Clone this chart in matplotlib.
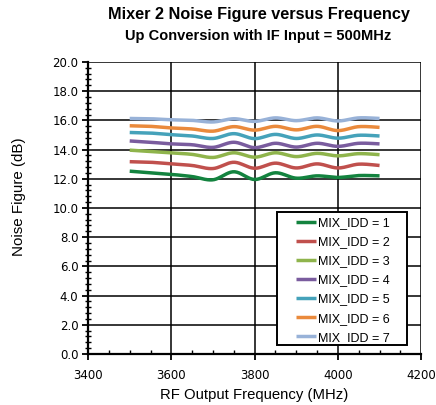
import numpy as np
import matplotlib
matplotlib.use("Agg")
import matplotlib.pyplot as plt
from matplotlib.ticker import MultipleLocator, FormatStrFormatter
from matplotlib.patches import Rectangle

freq = [3500, 3550, 3600, 3650, 3700, 3750, 3800, 3850, 3900, 3950, 4000, 4050, 4100]

nf_idd1 = [12.52, 12.41, 12.30, 12.15, 11.93, 12.48, 11.95, 12.41, 12.04, 12.20, 12.09, 12.22, 12.20]
nf_idd2 = [13.17, 13.13, 13.02, 12.91, 12.70, 13.13, 12.72, 13.07, 12.74, 13.02, 12.74, 13.00, 12.91]
nf_idd3 = [13.96, 13.87, 13.78, 13.67, 13.46, 13.78, 13.48, 13.78, 13.52, 13.74, 13.57, 13.72, 13.65]
nf_idd4 = [14.59, 14.50, 14.39, 14.33, 14.15, 14.50, 14.13, 14.43, 14.17, 14.43, 14.22, 14.43, 14.39]
nf_idd5 = [15.17, 15.13, 15.02, 14.93, 14.76, 15.09, 14.75, 15.04, 14.76, 15.00, 14.78, 14.98, 14.93]
nf_idd6 = [15.63, 15.59, 15.48, 15.41, 15.26, 15.57, 15.33, 15.59, 15.35, 15.59, 15.30, 15.57, 15.52]
nf_idd7 = [16.13, 16.11, 16.04, 16.00, 15.89, 16.11, 15.93, 16.17, 15.98, 16.17, 15.96, 16.17, 16.13]

labels = ["MIX_IDD = 1", "MIX_IDD = 2", "MIX_IDD = 3", "MIX_IDD = 4",
          "MIX_IDD = 5", "MIX_IDD = 6", "MIX_IDD = 7"]
colors = ["#13833f", "#c0504d", "#8fb44c", "#7a5c9e", "#45a2ba", "#ea8a3c", "#98b2d8"]


def smooth(x, y, n=20):
    # catmull-rom style curve, like Excel's "smoothed line"
    x = np.asarray(x, float)
    y = np.asarray(y, float)
    px = np.concatenate([[x[0]], x, [x[-1]]])
    py = np.concatenate([[y[0]], y, [y[-1]]])
    xs, ys = [], []
    t = np.linspace(0, 1, n, endpoint=False)
    for i in range(1, len(px) - 2):
        p0, p1, p2, p3 = (np.array([px[j], py[j]]) for j in (i - 1, i, i + 1, i + 2))
        c1 = p1 + (p2 - p0) / 6
        c2 = p2 - (p3 - p1) / 6
        b = ((1 - t) ** 3)[:, None] * p1 + (3 * (1 - t) ** 2 * t)[:, None] * c1 \
            + (3 * (1 - t) * t ** 2)[:, None] * c2 + (t ** 3)[:, None] * p2
        xs.append(b[:, 0])
        ys.append(b[:, 1])
    xs.append([x[-1]])
    ys.append([y[-1]])
    return np.concatenate(xs), np.concatenate(ys)


plt.rcParams["font.family"] = ["Liberation Sans", "DejaVu Sans"]

fig = plt.figure(figsize=(4.36, 4.05), dpi=100)
ax = fig.add_axes([0.202, 0.126, 0.764, 0.721])

series = [nf_idd1, nf_idd2, nf_idd3, nf_idd4, nf_idd5, nf_idd6, nf_idd7]
for vals, lab, c in zip(series, labels, colors):
    sx, sy = smooth(freq, vals)
    ax.plot(sx, sy, color=c, lw=2.5, label=lab, solid_capstyle="butt")

ax.set_xlim(3400, 4200)
ax.set_ylim(0, 20)
ax.xaxis.set_major_locator(MultipleLocator(200))
ax.xaxis.set_minor_locator(MultipleLocator(50))
ax.yaxis.set_major_locator(MultipleLocator(2))
ax.yaxis.set_minor_locator(MultipleLocator(0.4))
ax.yaxis.set_major_formatter(FormatStrFormatter("%.1f"))
ax.grid(True, which="major", color="black", lw=1.1)
ax.set_axisbelow(True)

for s in ["left", "bottom"]:
    ax.spines[s].set_linewidth(1.6)
for s in ["top", "right"]:
    ax.spines[s].set_visible(False)

ax.tick_params(which="major", direction="out", length=4, width=1.3, labelsize=8.5, colors="black", pad=3)
ax.tick_params(which="minor", direction="inout", length=4, width=1.0)
ax.tick_params(axis="x", which="minor", direction="in", length=3)
ax.tick_params(axis="x", which="major", pad=7)
for lbl in ax.get_xticklabels() + ax.get_yticklabels():
    lbl.set_family("DejaVu Sans")

ax.set_xlabel("RF Output Frequency (MHz)", fontsize=10.7, labelpad=4)
ax.set_ylabel("Noise Figure (dB)", fontsize=10.9)
ax.yaxis.set_label_coords(-0.185, 0.538)

fig.text(0.593, 0.963, "Mixer 2 Noise Figure versus Frequency", ha="center", va="center",
         fontsize=11.7, fontweight="bold")
fig.text(0.593, 0.911, "Up Conversion with IF Input = 500MHz", ha="center", va="center",
         fontsize=10.5, fontweight="bold")

# legend box drawn separately so entries sit with Excel-like side padding
ax.add_patch(Rectangle((0.568, 0.031), 0.390, 0.455, transform=ax.transAxes,
                       facecolor="white", edgecolor="black", lw=1.4, zorder=4))
leg = ax.legend(loc="upper left", bbox_to_anchor=(0.625, 0.469), fontsize=9,
                frameon=False, handlelength=1.6, handletextpad=0.15,
                borderpad=0, labelspacing=0.57, borderaxespad=0)
leg.set_zorder(5)

fig.savefig("out.png", dpi=100)
